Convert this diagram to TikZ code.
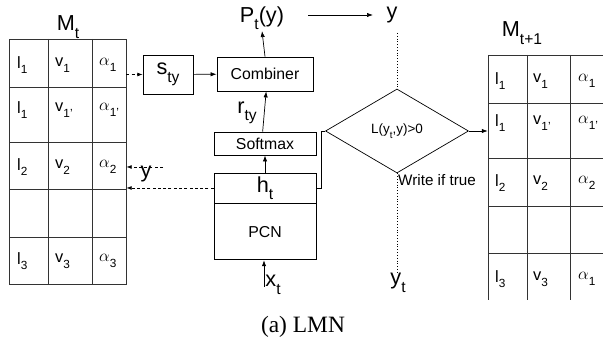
\documentclass[tikz,border=0pt]{standalone}
\usepackage{fontspec}
\usepackage{graphicx}
\setmainfont{Liberation Sans}
\newfontfamily\capfont{Liberation Serif}
\usetikzlibrary{positioning,arrows.meta,fit,shapes.geometric}
\newcommand{\sbs}[1]{\raisebox{-0.65ex}{\scalebox{0.72}{#1}}}
\tikzset{
  flowarrow/.style={-{Latex[length=1.8mm,width=1.3mm]}, line width=0.6pt},
  dasharrow/.style={-{Latex[length=1.6mm,width=1.2mm]}, dash pattern=on 2.5pt off 2pt, line width=0.6pt},
  plainbox/.style={draw, line width=0.7pt, inner sep=0pt, font=\fontsize{13.5}{15}\selectfont},
  biglabel/.style={font=\fontsize{18.5}{20}\selectfont, inner sep=1pt},
  celltext/.style={font=\fontsize{14}{16}\selectfont, inner sep=0pt, anchor=west},
  gridline/.style={line width=0.7pt, black!80},
  condbox/.style={draw, diamond, line width=0.6pt, inner sep=0pt, font=\fontsize{11.5}{13}\selectfont}
}

\begin{document}
\begin{tikzpicture}[x=0.03cm, y=-0.03cm]
  \useasboundingbox (0,0) rectangle (603,346);

  % memory before the step
  \coordinate (mtA) at (9,39);
  \coordinate (mtB) at (126,284);
  \node[draw, gridline, fit=(mtA)(mtB), inner sep=0pt] (memt) {};
  \foreach \yy in {87,142,189,237} \draw[gridline] (9,\yy) -- (126,\yy);
  \foreach \xx in {48,92} \draw[gridline] (\xx,39) -- (\xx,284);
  \foreach \yy/\a/\b/\c [count=\i] in {65/1/1/1, 110/1/1'/1', 167/2/2/2, 261/3/3/3} {
    \node[celltext] (ml\i) at (17,\yy) {l\sbs{\a}};
    \node[celltext] (mv\i) at (55,\yy) {v\sbs{\b}};
    \node[celltext] (ma\i) at (99,\yy) {$\alpha$\sbs{\c}};
  }
  \node[biglabel] (mtlabel) at (68,27) {M\sbs{t}};

  % memory after the step
  \coordinate (mnA) at (488,55);
  \coordinate (mnB) at (603,300);
  \node[fit=(mnA)(mnB), inner sep=0pt] (memt1) {};
  \foreach \yy in {55,103,158,206,253} \draw[gridline] (488,\yy) -- (603,\yy);
  \foreach \xx in {488,527,570} \draw[gridline] (\xx,55) -- (\xx,300);
  \foreach \yy/\a/\b/\c [count=\i] in {81/1/1/1, 123/1/1'/1', 183/2/2/2, 279/3/3/1} {
    \node[celltext] (nl\i) at (495,\yy) {l\sbs{\a}};
    \node[celltext] (nv\i) at (533,\yy) {v\sbs{\b}};
    \node[celltext] (na\i) at (578,\yy) {$\alpha$\sbs{\c}};
  }
  \node[biglabel] (mt1label) at (522,33) {M\sbs{t+1}};

  % network blocks
  \node[plainbox, minimum width=1.5cm, minimum height=1.17cm, font=\fontsize{18.5}{20}\selectfont] (sty) at (168,74.5) {s\sbs{ty}};
  \node[plainbox, minimum width=2.88cm, minimum height=1.02cm] (combiner) at (265,74) {Combiner};
  \node[plainbox, minimum width=3.06cm, minimum height=0.69cm] (softmax) at (265,143.5) {Softmax};
  \node[plainbox, minimum width=3.06cm, minimum height=0.9cm, font=\fontsize{18.5}{20}\selectfont] (ht) at (265,188) {h\sbs{t}};
  \node[plainbox, minimum width=3.06cm, minimum height=1.68cm, below=0pt of ht] (pcn) {PCN};
  \node[condbox, minimum width=4.29cm, minimum height=2.52cm] (cond) at (397,131) {L(y\sbs{t},y)>0};

  % labels
  \node[biglabel] (pty) at (262,18) {P\sbs{t}(y)};
  \node[biglabel] (yout) at (392,15) {y};
  \node[biglabel] (rty) at (247,113) {r\sbs{ty}};
  \node[biglabel] (xt) at (273,285) {x\sbs{t}};
  \node[biglabel] (yt) at (398,283) {y\sbs{t}};
  \node[biglabel] (ylab) at (146,174) {y};
  \node[font=\fontsize{13}{15}\selectfont, anchor=west, inner sep=0pt] (write) at (398,180) {Write if true};
  \node[font=\capfont\fontsize{20}{22}\selectfont] (caption) at (303,327) {(a) LMN};

  \coordinate (pyA) at (308,15);
  \coordinate (pyB) at (373,15);
  \coordinate (xtA) at (264,287);
  \coordinate (yA) at (163,167);
  \coordinate (dotA) at (397,33);
  \coordinate (dotB) at (397,273);

  % connectors
  \draw[flowarrow] (combiner.north) -- (pty.south);
  \draw[flowarrow] (pyA) -- (pyB);
  \draw[flowarrow] ([xshift=-2]softmax.north) -- ([xshift=1]combiner.south);
  \draw[flowarrow] (ht.north) -- (softmax.south);
  \draw[flowarrow] (xtA) -- (xtA |- pcn.south);
  \draw[flowarrow] (sty) -- (combiner);
  \draw[dasharrow] (sty.west -| memt.east) -- (sty.west);
  \draw[dasharrow] (yA) -- (yA -| memt.east);
  \draw[dasharrow] (ht.west) -- (ht.west -| memt.east);
  \draw[line width=0.6pt] (ht.east) -- ++(5,0) |- (cond.west);
  \draw[flowarrow] (cond.east) -- (cond.east -| memt1.west);
  \draw[dotted] (dotA) -- (cond.north);
  \draw[dotted] (cond.south) -- (dotB);
\end{tikzpicture}
\end{document}
